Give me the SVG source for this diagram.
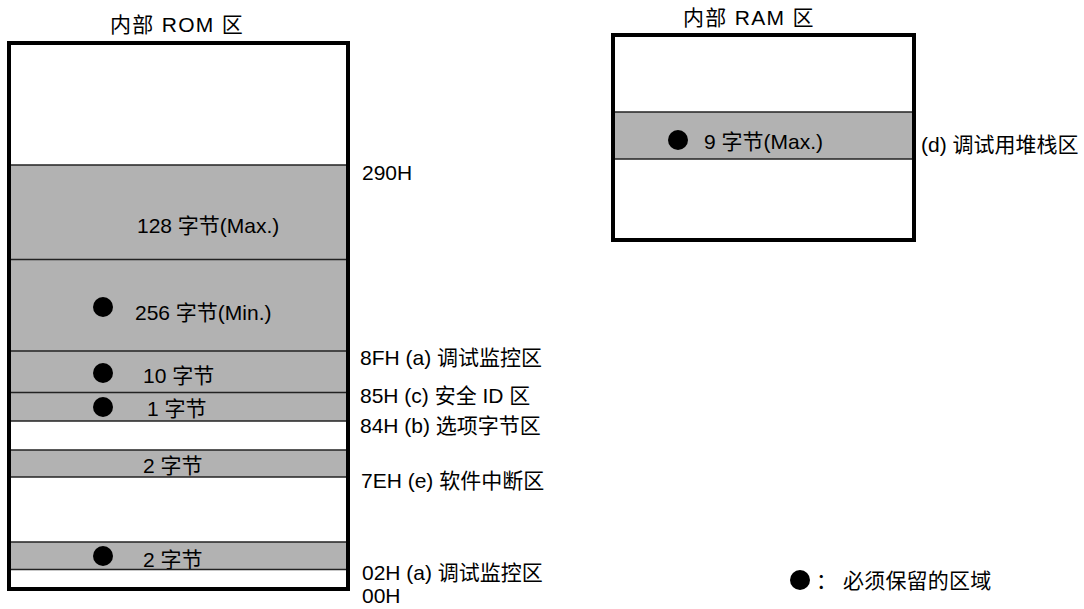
<svg xmlns="http://www.w3.org/2000/svg" width="1084" height="609" viewBox="0 0 1084 609">
<style>
text { font-family: "Liberation Sans", "Noto Sans CJK SC", sans-serif; font-size: 21px; fill: #000; }
.title { letter-spacing: 1.3px; }
.band { fill: #b2b2b2; stroke: none; }
.sep { stroke: #222; stroke-width: 1.5; fill: none; }
.frame { fill: none; stroke: #000; stroke-width: 4; }
.dot { fill: #000; }
</style>
<rect width="1084" height="609" fill="#fff"/>
<g id="connectors"></g>

<g id="rom">
  <text class="title" x="110" y="32">内部 ROM 区</text>
  <rect x="9" y="43" width="339" height="546" fill="#fff"/>
  <g id="rom-max128">
    <rect class="band" x="11" y="165" width="335" height="94.5"/>
    <text x="137" y="233">128 字节(Max.)</text>
  </g>
  <g id="rom-min256">
    <rect class="band" x="11" y="259.5" width="335" height="91.5"/>
    <circle class="dot" cx="103" cy="307" r="10"/>
    <text x="135" y="320">256 字节(Min.)</text>
  </g>
  <g id="rom-10b">
    <rect class="band" x="11" y="351" width="335" height="41.5"/>
    <circle class="dot" cx="103" cy="373" r="10"/>
    <text x="143" y="383">10 字节</text>
  </g>
  <g id="rom-1b">
    <rect class="band" x="11" y="392.5" width="335" height="28.5"/>
    <circle class="dot" cx="103" cy="407" r="10"/>
    <text x="147" y="416">1 字节</text>
  </g>
  <g id="rom-2b-a">
    <rect class="band" x="11" y="450" width="335" height="27"/>
    <text x="143" y="473">2 字节</text>
  </g>
  <g id="rom-2b-b">
    <rect class="band" x="11" y="542" width="335" height="27.5"/>
    <circle class="dot" cx="103" cy="556" r="10"/>
    <text x="143" y="567">2 字节</text>
  </g>
  <g id="rom-lines">
    <line class="sep" x1="11" y1="165" x2="346" y2="165"/>
    <line class="sep" x1="11" y1="259.5" x2="346" y2="259.5"/>
    <line class="sep" x1="11" y1="351" x2="346" y2="351"/>
    <line class="sep" x1="11" y1="392.5" x2="346" y2="392.5"/>
    <line class="sep" x1="11" y1="421" x2="346" y2="421"/>
    <line class="sep" x1="11" y1="450" x2="346" y2="450"/>
    <line class="sep" x1="11" y1="477" x2="346" y2="477"/>
    <line class="sep" x1="11" y1="542" x2="346" y2="542"/>
    <line class="sep" x1="11" y1="569.5" x2="346" y2="569.5"/>
  </g>
  <rect class="frame" x="9" y="43" width="339" height="546"/>
</g>

<g id="rom-labels">
  <text x="362" y="180">290H</text>
  <text x="360" y="365">8FH (a) 调试监控区</text>
  <text x="360" y="403">85H (c) 安全 ID 区</text>
  <text x="360" y="433">84H (b) 选项字节区</text>
  <text x="361" y="488">7EH (e) 软件中断区</text>
  <text x="362" y="580">02H (a) 调试监控区</text>
  <text x="362" y="603">00H</text>
</g>

<g id="ram">
  <text class="title" x="683" y="25">内部 RAM 区</text>
  <rect x="613" y="35" width="301" height="205" fill="#fff"/>
  <g id="ram-stack">
    <rect class="band" x="615" y="112" width="297" height="47"/>
    <circle class="dot" cx="678" cy="140" r="10"/>
    <text x="704" y="149">9 字节(Max.)</text>
    <line class="sep" x1="615" y1="112" x2="912" y2="112"/>
    <line class="sep" x1="615" y1="159" x2="912" y2="159"/>
  </g>
  <rect class="frame" x="613" y="35" width="301" height="205"/>
  <text x="921" y="152">(d) 调试用堆栈区</text>
</g>

<g id="legend">
  <circle class="dot" cx="800" cy="580" r="10"/>
  <text x="816" y="588">：</text>
  <text x="843" y="588" letter-spacing="0.2">必须保留的区域</text>
</g>
</svg>
